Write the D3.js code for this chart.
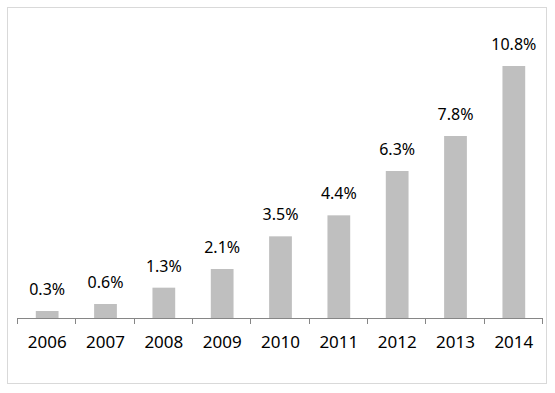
<!DOCTYPE html>
<html>
<head>
<meta charset="utf-8">
<script src="https://cdn.jsdelivr.net/npm/d3@7"></script>
<style>
  body { margin: 0; background: #fff; }
  text { font-family: "Noto Sans", "Noto Sans CJK KR", sans-serif; fill: #000; }
</style>
</head>
<body>
<div id="chart"></div>
<script>
const years = ["2006", "2007", "2008", "2009", "2010", "2011", "2012", "2013", "2014"];
const shares = [0.3, 0.6, 1.3, 2.1, 3.5, 4.4, 6.3, 7.8, 10.8];

const W = 555, H = 393;
const margin = { top: 38, right: 13, bottom: 75, left: 17 };
const width = W - margin.left - margin.right;
const height = H - margin.top - margin.bottom;

const svg = d3.select("#chart").append("svg")
    .attr("width", W)
    .attr("height", H);

// outer chart border
svg.append("rect")
    .attr("x", 7.5).attr("y", 7.5)
    .attr("width", 539).attr("height", 376)
    .attr("fill", "#fff")
    .attr("stroke", "#d9d9d9");

const g = svg.append("g")
    .attr("transform", `translate(${margin.left}, ${margin.top})`);

const x = d3.scaleBand()
    .domain(years)
    .range([1, width + 1])
    .paddingInner(0.61)
    .paddingOuter(0.305);

const y = d3.scaleLinear()
    .domain([0, 12])
    .range([height, 0]);

const data = years.map((yr, i) => ({ year: yr, value: shares[i] }));

g.selectAll(".bar")
    .data(data)
    .enter().append("rect")
    .attr("class", "bar")
    .attr("x", d => x(d.year))
    .attr("y", d => y(d.value))
    .attr("width", x.bandwidth())
    .attr("height", d => height - y(d.value))
    .attr("fill", "#bfbfbf");

g.selectAll(".label")
    .data(data)
    .enter().append("text")
    .attr("class", "label")
    .attr("x", d => x(d.year) + x.bandwidth() / 2)
    .attr("y", d => y(d.value) - 16)
    .attr("text-anchor", "middle")
    .style("font-size", "16px")
    .text(d => d.value.toFixed(1) + "%");

// x axis with ticks between categories
const axis = g.append("g")
    .attr("transform", `translate(0, ${height})`);

axis.append("line")
    .attr("x1", 0).attr("x2", width)
    .attr("y1", 0.5).attr("y2", 0.5)
    .attr("stroke", "#868686");

const bounds = d3.range(years.length + 1).map(i => i * width / years.length);
axis.selectAll(".tick")
    .data(bounds)
    .enter().append("line")
    .attr("x1", d => Math.round(d) + 0.5)
    .attr("x2", d => Math.round(d) + 0.5)
    .attr("y1", 0).attr("y2", 6)
    .attr("stroke", "#868686");

axis.selectAll(".year")
    .data(years)
    .enter().append("text")
    .attr("class", "year")
    .attr("x", d => x(d) + x.bandwidth() / 2)
    .attr("y", 30)
    .attr("text-anchor", "middle")
    .style("font-size", "17px")
    .text(d => d);
</script>
</body>
</html>
